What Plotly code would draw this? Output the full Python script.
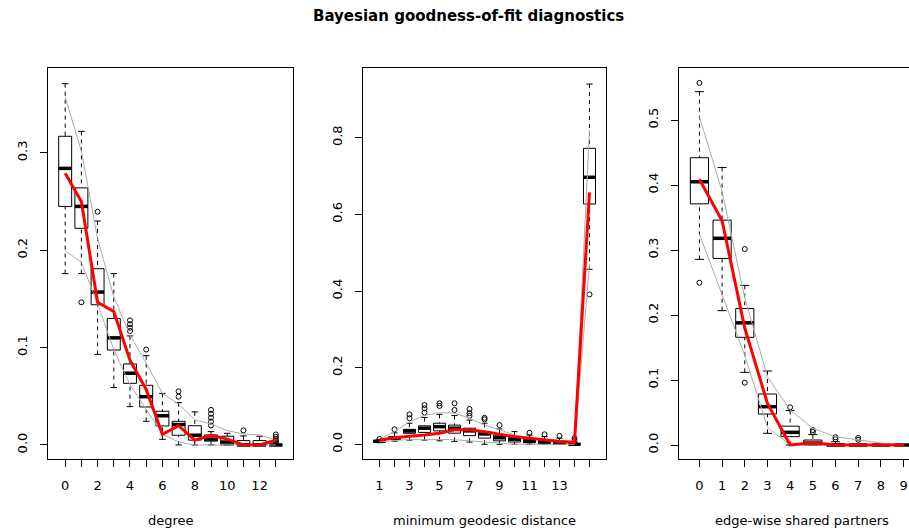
import plotly.graph_objects as go

# ---------------- data ----------------
# Panel 1: degree
deg_labels = list(range(14))
deg_lo  = [0.176, 0.176, 0.093, 0.059, 0.0394, 0.0243, 0.0058, 0.0, 0.0, 0.0, 0.0, 0.0, 0.0, 0.0]
deg_q1  = [0.245, 0.2225, 0.144, 0.0975, 0.0633, 0.039, 0.0195, 0.010, 0.005, 0.004, 0.0, 0.0, 0.0, 0.0]
deg_med = [0.284, 0.245, 0.157, 0.110, 0.0737, 0.0496, 0.030, 0.021, 0.010, 0.006, 0.003, 0.0, 0.0, 0.0]
deg_q3  = [0.317, 0.264, 0.181, 0.130, 0.0832, 0.0613, 0.0346, 0.0243, 0.0198, 0.0103, 0.009, 0.0045, 0.0045, 0.0]
deg_hi  = [0.371, 0.322, 0.230, 0.176, 0.112, 0.0917, 0.053, 0.0435, 0.034, 0.0137, 0.012, 0.0093, 0.009, 0.003]
deg_out_x = [1, 2, 4, 4, 4, 4, 5, 7, 7, 9, 9, 9, 9, 9, 11, 13, 13, 13, 13, 13]
deg_out_y = [0.1465, 0.2395, 0.128, 0.124, 0.1205, 0.117, 0.098, 0.0551, 0.0496,
             0.036, 0.032, 0.028, 0.024, 0.020, 0.0150, 0.0108, 0.0085, 0.006, 0.004, 0.002]
deg_obs   = [0.279, 0.250, 0.1465, 0.137, 0.087, 0.057, 0.011, 0.0198, 0.005, 0.010, 0.006, 0.0, 0.0, 0.005]
deg_upper = [0.357, 0.302, 0.212, 0.152, 0.113, 0.084, 0.053, 0.042, 0.0257, 0.0215, 0.0147, 0.0113, 0.0103, 0.005]
deg_lower = [0.1995, 0.1875, 0.145, 0.098, 0.062, 0.036, 0.011, 0.003, 0.0, 0.0, 0.0, 0.0, 0.0, 0.0]
deg_ticktext = ["0", "", "2", "", "4", "", "6", "", "8", "", "10", "", "12", ""]

# Panel 2: minimum geodesic distance (1..14, Inf)
geo_pos = list(range(1, 16))
geo_lo  = [0.004, 0.008, 0.011, 0.011, 0.009, 0.0075, 0.0057, 0.0, 0.0, 0.0, 0.0, 0.0, 0.0, 0.0, 0.4566]
geo_q1  = [0.006, 0.013, 0.0287, 0.031, 0.035, 0.029, 0.0225, 0.016, 0.009, 0.006, 0.004, 0.002, 0.0, 0.0, 0.627]
geo_med = [0.008, 0.016, 0.0347, 0.042, 0.046, 0.042, 0.035, 0.027, 0.017, 0.013, 0.008, 0.005, 0.003, 0.0, 0.6967]
geo_q3  = [0.010, 0.020, 0.039, 0.048, 0.055, 0.050, 0.042, 0.033, 0.024, 0.017, 0.013, 0.010, 0.008, 0.001, 0.7723]
geo_hi  = [0.012, 0.030, 0.055, 0.070, 0.078, 0.075, 0.063, 0.055, 0.040, 0.033, 0.024, 0.020, 0.016, 0.004, 0.940]
geo_out_x = [1, 2, 3, 3, 4, 4, 4, 5, 5, 6, 6, 7, 7, 7, 8, 8, 9, 11, 12, 13, 14, 14, 15]
geo_out_y = [0.0138, 0.039, 0.078, 0.068, 0.1025, 0.094, 0.0825, 0.107, 0.100, 0.107, 0.0895,
             0.092, 0.081, 0.074, 0.069, 0.065, 0.050, 0.030, 0.026, 0.022, 0.016, 0.010, 0.391]
geo_obs   = [0.011, 0.017, 0.021, 0.024, 0.029, 0.038, 0.038, 0.033, 0.026, 0.020, 0.016, 0.011, 0.007, 0.005, 0.6575]
geo_upper = [0.014, 0.033, 0.059, 0.075, 0.0825, 0.081, 0.068, 0.050, 0.038, 0.024, 0.017, 0.013, 0.010, 0.007, 0.82]
geo_lower = [0.006, 0.009, 0.013, 0.013, 0.013, 0.012, 0.009, 0.006, 0.003, 0.0, 0.0, 0.0, 0.0, 0.0, 0.47]
geo_ticktext = ["1", "", "3", "", "5", "", "7", "", "9", "", "11", "", "13", "", ""]

# Panel 3: edge-wise shared partners (0..9)
esp_labels = list(range(10))
esp_lo  = [0.2856, 0.2067, 0.1118, 0.018, 0.0, 0.0, 0.0, 0.0, 0.0, 0.0]
esp_q1  = [0.371, 0.287, 0.1657, 0.0477, 0.0128, 0.0, 0.0, 0.0, 0.0, 0.0]
esp_med = [0.405, 0.318, 0.188, 0.059, 0.0195, 0.003, 0.0, 0.0, 0.0, 0.0]
esp_q3  = [0.442, 0.346, 0.210, 0.0785, 0.029, 0.0077, 0.002, 0.0, 0.0, 0.0]
esp_hi  = [0.5436, 0.427, 0.2456, 0.1138, 0.053, 0.016, 0.005, 0.0, 0.0, 0.0]
esp_out_x = [0, 0, 2, 2, 4, 5, 5, 6, 6, 7, 7]
esp_out_y = [0.557, 0.2497, 0.3015, 0.0959, 0.058, 0.023, 0.020, 0.012, 0.009, 0.011, 0.008]
esp_obs   = [0.409, 0.345, 0.18, 0.064, 0.0, 0.0036, 0.0, 0.0, 0.0, 0.0]
esp_upper = [0.505, 0.39, 0.226, 0.105, 0.054, 0.0256, 0.0128, 0.0077, 0.003, 0.0]
esp_lower = [0.3246, 0.232, 0.138, 0.027, 0.0, 0.0, 0.0, 0.0, 0.0, 0.0]
esp_ticktext = [str(v) for v in esp_labels]

title_text = "Bayesian goodness-of-fit diagnostics"
xlab = ["degree", "minimum geodesic distance", "edge-wise shared partners"]

# ---------------- figure ----------------
W, H = 909, 531
FONT = "DejaVu Sans"
GREY = "#ababab"
LINE_EW = 1.4  # plotly's line-ew marker spans 1.4 x size

fig = go.Figure()


def add_panel(n, x, lo, q1, med, q3, hi, ox, oy, obs, upper, lower, box_px):
    xa = "x" if n == 1 else f"x{n}"
    ya = "y" if n == 1 else f"y{n}"
    # boxes
    fig.add_trace(go.Box(x=x, q1=q1, median=med, q3=q3, lowerfence=q1, upperfence=q3,
                         width=0.8, whiskerwidth=0, fillcolor="white",
                         line=dict(color="black", width=1), boxpoints=False,
                         xaxis=xa, yaxis=ya, hoverinfo="skip", showlegend=False))
    # dashed whiskers
    wx, wy = [], []
    for xi, l, a, b, h in zip(x, lo, q1, q3, hi):
        wx += [xi, xi, None, xi, xi, None]
        wy += [h, b, None, l, a, None]
    fig.add_trace(go.Scatter(x=wx, y=wy, mode="lines", xaxis=xa, yaxis=ya,
                             line=dict(color="black", width=1, dash="4px,4px"),
                             hoverinfo="skip", showlegend=False))
    # staples
    fig.add_trace(go.Scatter(x=list(x) + list(x), y=list(lo) + list(hi), mode="markers",
                             xaxis=xa, yaxis=ya,
                             marker=dict(symbol="line-ew", size=box_px * 0.5 / LINE_EW,
                                         line=dict(color="black", width=1)),
                             hoverinfo="skip", showlegend=False))
    # thick medians
    fig.add_trace(go.Scatter(x=x, y=med, mode="markers", xaxis=xa, yaxis=ya,
                             marker=dict(symbol="line-ew", size=box_px / LINE_EW,
                                         line=dict(color="black", width=3.5)),
                             hoverinfo="skip", showlegend=False))
    # outliers
    fig.add_trace(go.Scatter(x=ox, y=oy, mode="markers", xaxis=xa, yaxis=ya,
                             marker=dict(symbol="circle-open", size=5,
                                         line=dict(color="black", width=1), color="black"),
                             hoverinfo="skip", showlegend=False))
    # simulation band
    for band in (upper, lower):
        fig.add_trace(go.Scatter(x=x, y=band, mode="lines", xaxis=xa, yaxis=ya,
                                 line=dict(color=GREY, width=1),
                                 hoverinfo="skip", showlegend=False))
    # observed
    fig.add_trace(go.Scatter(x=x, y=obs, mode="lines", xaxis=xa, yaxis=ya,
                             line=dict(color="red", width=3),
                             hoverinfo="skip", showlegend=False))


add_panel(1, deg_labels, deg_lo, deg_q1, deg_med, deg_q3, deg_hi,
          deg_out_x, deg_out_y, deg_obs, deg_upper, deg_lower, 13)
add_panel(2, geo_pos, geo_lo, geo_q1, geo_med, geo_q3, geo_hi,
          geo_out_x, geo_out_y, geo_obs, geo_upper, geo_lower, 12.1)
add_panel(3, esp_labels, esp_lo, esp_q1, esp_med, esp_q3, esp_hi,
          esp_out_x, esp_out_y, esp_obs, esp_upper, esp_lower, 18.1)

ydom = [(H - 459) / H, (H - 68) / H]
tickfont = dict(family=FONT, size=13, color="black")

common_x = dict(showgrid=False, zeroline=False, showline=True, mirror=True,
                linecolor="black", linewidth=1, ticks="outside", ticklen=7,
                tickcolor="black", tickwidth=1, tickfont=tickfont,
                ticklabelstandoff=7, fixedrange=True)
common_y = dict(showgrid=False, zeroline=False, showline=True,
                linecolor="black", linewidth=1, ticks="outside", ticklen=7,
                tickcolor="black", tickwidth=1, tickfont=tickfont, tickangle=-90,
                ticklabelstandoff=8, fixedrange=True)

fig.update_layout(
    width=W, height=H,
    margin=dict(l=0, r=0, t=0, b=0),
    paper_bgcolor="white", plot_bgcolor="white",
    showlegend=False,
    boxgap=0, boxgroupgap=0,
    xaxis=dict(domain=[48 / W, 293 / W], range=[-1.06, 14.06],
               tickmode="array", tickvals=deg_labels, ticktext=deg_ticktext, **common_x),
    yaxis=dict(domain=ydom, range=[-0.0144, 0.3871], anchor="x", mirror=True,
               tickmode="array", tickvals=[0, 0.1, 0.2, 0.3],
               ticktext=["0.0", "0.1", "0.2", "0.3"], **common_y),
    xaxis2=dict(domain=[363 / W, 606 / W], range=[-0.1, 16.1], anchor="y2",
                tickmode="array", tickvals=geo_pos, ticktext=geo_ticktext, **common_x),
    yaxis2=dict(domain=ydom, range=[-0.0384, 0.9819], anchor="x2", mirror=True,
                tickmode="array", tickvals=[0, 0.2, 0.4, 0.6, 0.8],
                ticktext=["0.0", "0.2", "0.4", "0.6", "0.8"], **common_y),
    xaxis3=dict(domain=[679 / W, 1.0], range=[-0.9, 9.24], anchor="y3",
                tickmode="array", tickvals=esp_labels, ticktext=esp_ticktext, **common_x),
    yaxis3=dict(domain=ydom, range=[-0.0215, 0.58], anchor="x3", mirror=False,
                tickmode="array", tickvals=[0, 0.1, 0.2, 0.3, 0.4, 0.5],
                ticktext=["0.0", "0.1", "0.2", "0.3", "0.4", "0.5"], **common_y),
)

annotations = [dict(text=f"<b>{title_text}</b>", x=468 / W, y=1 - 16 / H,
                    xref="paper", yref="paper", xanchor="center", yanchor="middle",
                    showarrow=False, font=dict(family=FONT, size=15, color="black"))]
centers = [(48 + 293) / 2, (363 + 606) / 2, (679 + 924) / 2]
for cx, lab in zip(centers, xlab):
    annotations.append(dict(text=lab, x=cx / W, y=1 - 520 / H, xref="paper", yref="paper",
                            xanchor="center", yanchor="middle", showarrow=False,
                            font=dict(family=FONT, size=13, color="black")))
fig.update_layout(annotations=annotations)

fig.write_html("out.html", config={"displayModeBar": False, "staticPlot": True},
               post_script="document.body.style.margin='0';document.body.style.padding='0';")
